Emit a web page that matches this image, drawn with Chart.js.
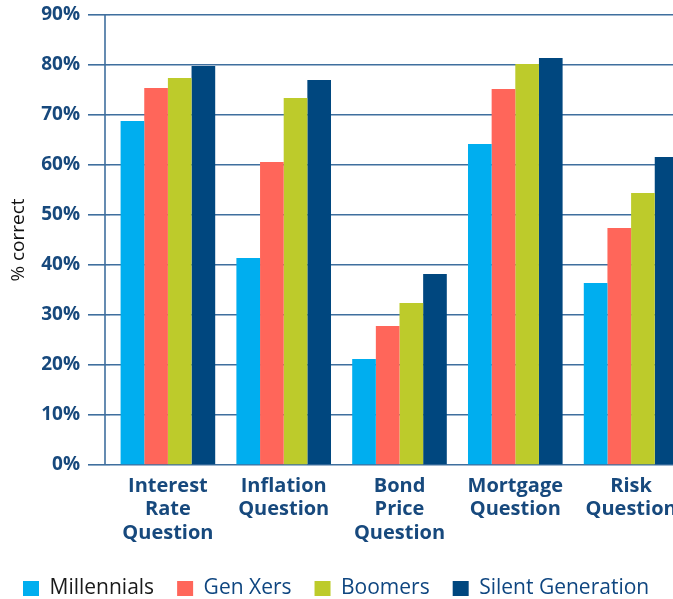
<!DOCTYPE html>
<html>
<head>
<meta charset="utf-8">
<script src="https://cdn.jsdelivr.net/npm/chart.js@4.4.1/dist/chart.umd.min.js"></script>
<style>
  html, body { margin: 0; padding: 0; background: #ffffff; overflow: hidden; width: 673px; height: 599px; }
  canvas { display: block; }
</style>
</head>
<body>
<canvas id="c" width="689" height="599"></canvas>
<script>
const categories = [
  ["Interest", "Rate", "Question"],
  ["Inflation", "Question"],
  ["Bond", "Price", "Question"],
  ["Mortgage", "Question"],
  ["Risk", "Question"]
];
const seriesNames = ["Millennials", "Gen Xers", "Boomers", "Silent Generation"];
const millennials = [68.8, 41.4, 21.2, 64.2, 36.4];
const genXers = [75.4, 60.6, 27.8, 75.2, 47.4];
const boomers = [77.4, 73.4, 32.4, 80.2, 54.4];
const silentGeneration = [79.8, 77.0, 38.2, 81.4, 61.6];
const yTicks = [0, 10, 20, 30, 40, 50, 60, 70, 80, 90];

const colors = ["#00aeef", "#ff665a", "#bdcb2b", "#00477f"];
const legendTextColors = ["#1a1a1a", "#0f4680", "#0f4680", "#0f4680"];
const textBlue = "#17497d";
const gridColor = "#3f6f9e";
const FONT = "'Open Sans', 'Noto Sans', sans-serif";

const seriesData = [millennials, genXers, boomers, silentGeneration];

const yAxisLine = {
  id: 'yAxisLine',
  beforeDatasetsDraw(chart) {
    const { ctx, chartArea } = chart;
    ctx.save();
    ctx.strokeStyle = gridColor;
    ctx.lineWidth = 1.6;
    ctx.beginPath();
    ctx.moveTo(chartArea.left - 5, chartArea.top);
    ctx.lineTo(chartArea.left - 5, chartArea.bottom);
    ctx.stroke();
    ctx.restore();
  }
};

new Chart(document.getElementById('c'), {
  type: 'bar',
  data: {
    labels: categories,
    datasets: seriesNames.map((name, i) => ({
      label: name,
      data: seriesData[i],
      backgroundColor: colors[i],
      borderWidth: 0,
      categoryPercentage: 0.817,
      barPercentage: 1.0
    }))
  },
  plugins: [yAxisLine],
  options: {
    responsive: false,
    animation: false,
    devicePixelRatio: 1,
    layout: { padding: { top: 15, right: 0, left: 0, bottom: -10 } },
    plugins: {
      tooltip: { enabled: false },
      legend: {
        display: true,
        position: 'bottom',
        align: 'start',
        labels: {
          font: { family: FONT, size: 21 },
          boxWidth: 16,
          boxHeight: 15,
          padding: 23,
          generateLabels(chart) {
            const items = Chart.defaults.plugins.legend.labels.generateLabels(chart);
            items.forEach((it, i) => { it.fontColor = legendTextColors[i]; it.lineWidth = 0; });
            return items;
          }
        }
      }
    },
    scales: {
      x: {
        grid: { display: false },
        border: { display: false },
        ticks: {
          color: textBlue,
          font: { family: FONT, size: 20, weight: 'bold', lineHeight: 1.18 },
          padding: 1,
          maxRotation: 0,
          autoSkip: false
        },
        afterFit(scale) { scale.height = 90; }
      },
      y: {
        min: 0,
        max: 90,
        afterBuildTicks(scale) { scale.ticks = yTicks.map(v => ({ value: v })); },
        ticks: {
          color: textBlue,
          font: { family: FONT, size: 19, weight: 'bold', lineHeight: 0.6 },
          padding: 8,
          callback: v => v + '%'
        },
        grid: { color: gridColor, lineWidth: 1.6, tickLength: 22, drawTicks: true },
        border: { display: false },
        title: {
          display: true,
          text: '% correct',
          color: '#111111',
          font: { family: FONT, size: 19 },
          padding: { top: 7, bottom: 0 }
        },
        afterFit(scale) { scale.width = 110; }
      }
    }
  }
});
</script>
</body>
</html>
